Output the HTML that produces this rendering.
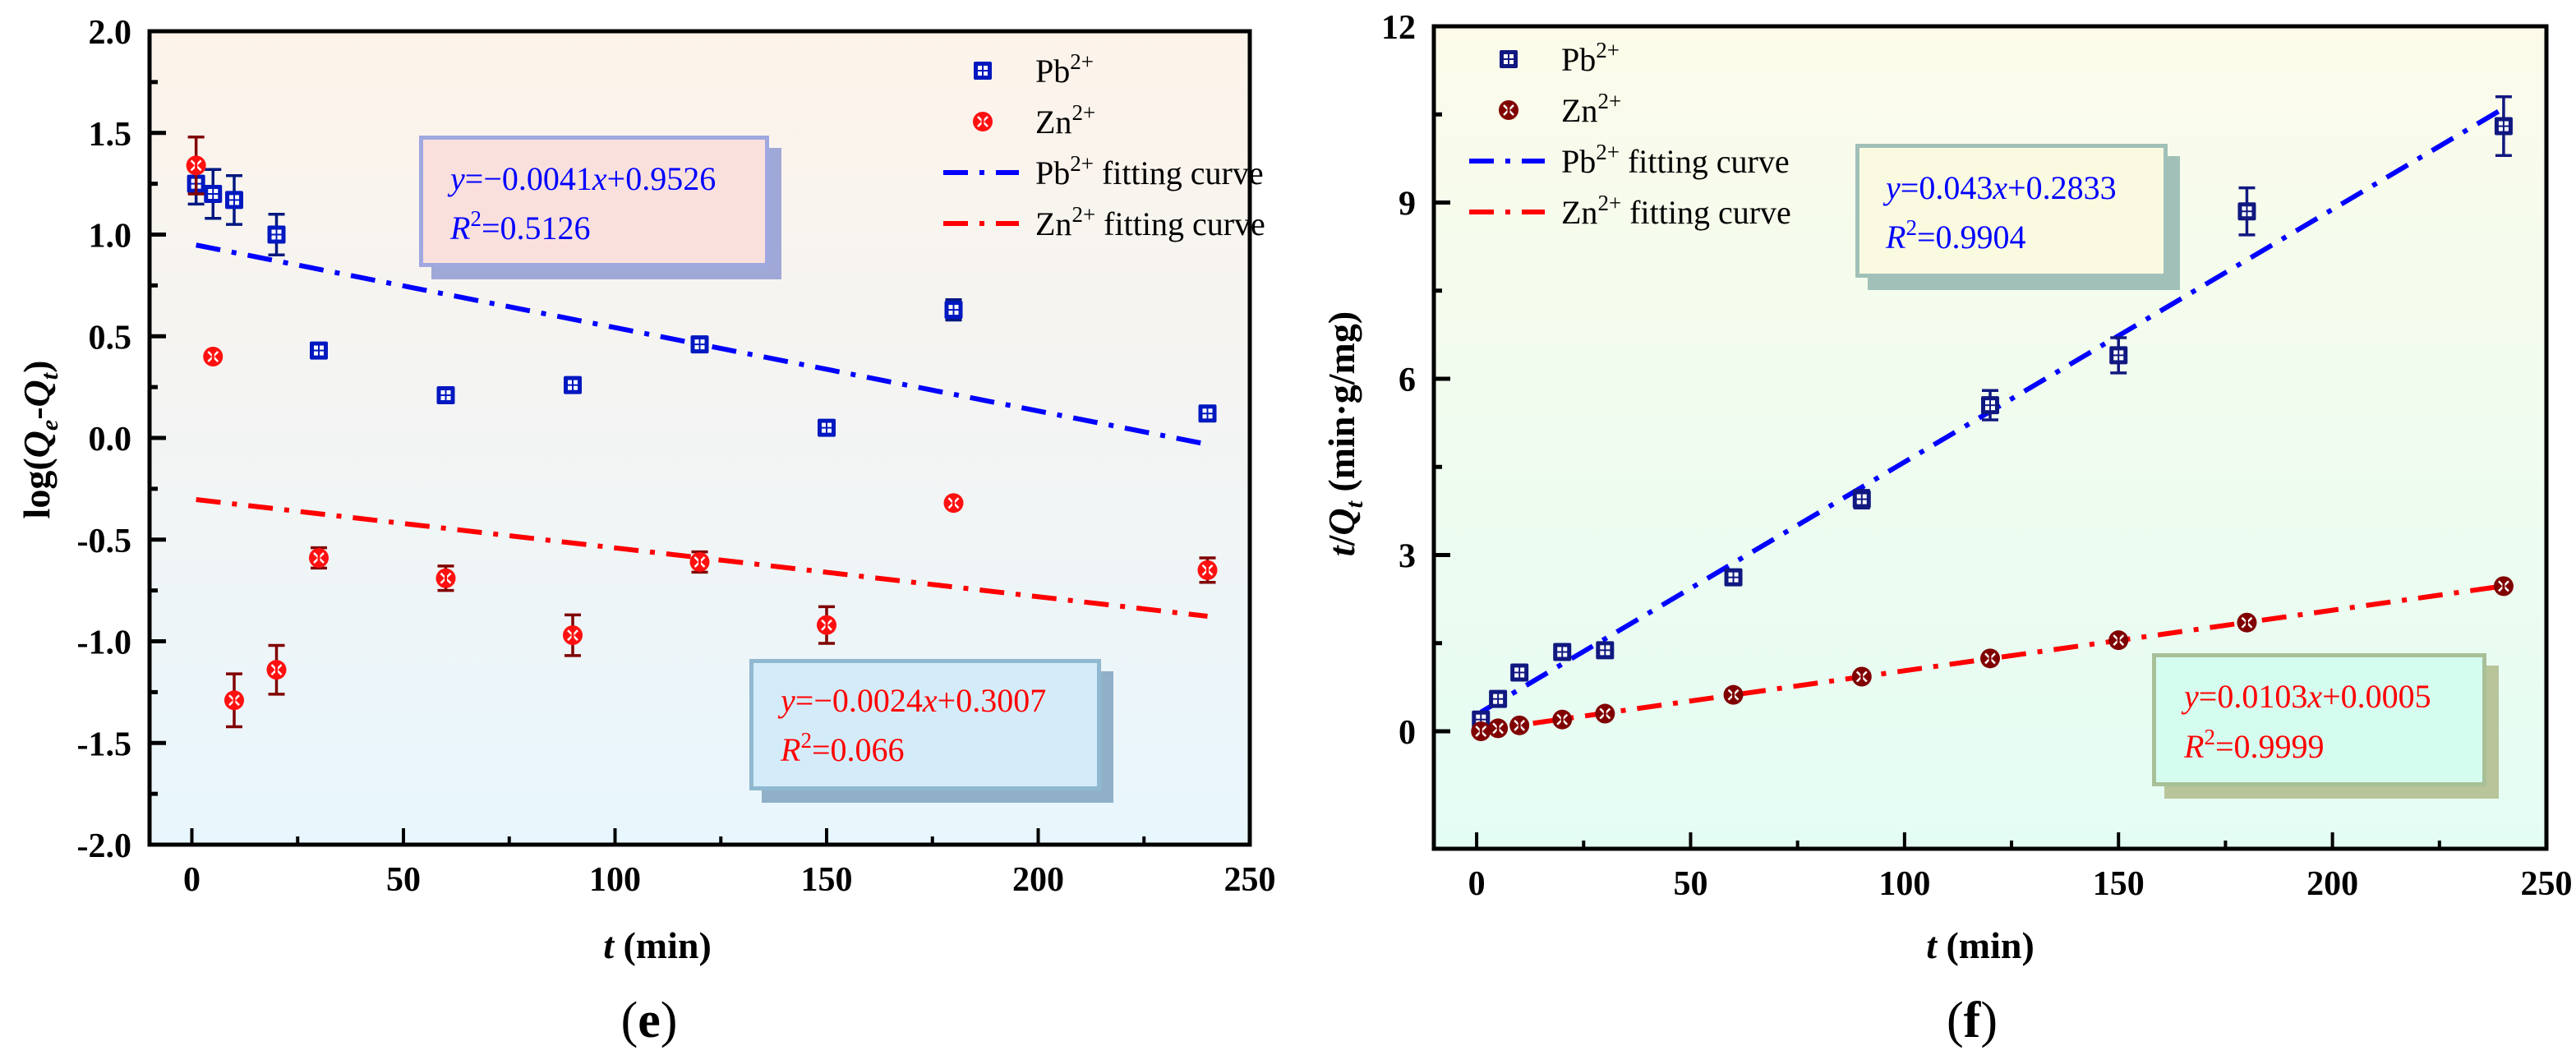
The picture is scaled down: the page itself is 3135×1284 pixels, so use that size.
<!DOCTYPE html>
<html><head><meta charset="utf-8">
<style>
html,body{margin:0;padding:0;background:#fff;}
svg{display:block;font-family:"Liberation Serif",serif;}
</style></head>
<body>
<svg id="fig" width="3135" height="1284" viewBox="0 0 3135 1284" xmlns="http://www.w3.org/2000/svg">
<defs>
<linearGradient id="bgE" x1="0" y1="0" x2="0" y2="1"><stop offset="0" stop-color="#fdf3ea"/><stop offset="1" stop-color="#e8f6fd"/></linearGradient>
<linearGradient id="bgF" x1="0" y1="0" x2="0" y2="1"><stop offset="0" stop-color="#fcfbea"/><stop offset="1" stop-color="#e4fdf4"/></linearGradient>
</defs>
<g id="panelE"></g>
<g id="panelF"></g>
</svg>
<script>
// ---- data (panel e) ----
const timesE = [1,5,10,20,30,60,90,120,150,180,240];
const pbE = [1.25,1.2,1.17,1.0,0.43,0.21,0.26,0.46,0.05,0.63,0.12];
const pbErrE = [0.1,0.12,0.12,0.1,0.02,0.02,0.02,0.03,0.02,0.05,0.02];
const znE = [1.34,0.40,-1.29,-1.14,-0.59,-0.69,-0.97,-0.61,-0.92,-0.32,-0.65];
const znErrE = [0.14,0.02,0.13,0.12,0.05,0.06,0.1,0.05,0.09,0.02,0.06];
const fitPbE = [-0.0041,0.9526];
const fitZnE = [-0.0024,-0.3007];
const yTicksE = [2.0,1.5,1.0,0.5,0.0,-0.5,-1.0,-1.5,-2.0];
const yTickLabelsE = ["2.0","1.5","1.0","0.5","0.0","-0.5","-1.0","-1.5","-2.0"];
const xTicks = [0,50,100,150,200,250];
// ---- data (panel f) ----
const timesF = [1,5,10,20,30,60,90,120,150,180,240];
const pbF = [0.2,0.55,1.0,1.35,1.38,2.62,3.95,5.55,6.4,8.85,10.3];
const pbErrF = [0.04,0.05,0.06,0.06,0.06,0.08,0.15,0.25,0.3,0.4,0.5];
const znF = [0.0,0.05,0.1,0.2,0.3,0.62,0.93,1.24,1.55,1.85,2.47];
const znErrF = [0.02,0.02,0.02,0.03,0.03,0.04,0.04,0.05,0.05,0.05,0.05];
const fitPbF = [0.043,0.2833];
const fitZnF = [0.0103,0.0005];
const yTicksF = [0,3,6,9,12];
const yTickLabelsF = ["0","3","6","9","12"];

const NS="http://www.w3.org/2000/svg";
function mk(parent,tag,attrs,text){const e=document.createElementNS(NS,tag);for(const k in attrs)e.setAttribute(k,attrs[k]);if(text!==undefined)e.textContent=text;parent.appendChild(e);return e;}

function axis(x0,x1,px0,px1){return v=>px0+(v-x0)/(x1-x0)*(px1-px0);}

function panel(g,cfg){
  const sx=axis(-10,250,cfg.L,cfg.R), sy=axis(cfg.ymin,cfg.ymax,cfg.B,cfg.T);
  const bg=mk(g,'rect',{x:cfg.L,y:cfg.T,width:cfg.R-cfg.L,height:cfg.B-cfg.T,fill:cfg.bg});
  
  
  // boxes
  cfg.boxes.forEach(b=>{
    const bx=mk(g,'g',{});
    
    
    mk(bx,'rect',{x:b.x+15,y:b.y+15,width:b.w,height:b.h,fill:b.sh});
    mk(bx,'rect',{x:b.x+2.5,y:b.y+2.5,width:b.w-5,height:b.h-5,fill:b.fill,stroke:b.border,'stroke-width':5});
    const t1=mk(bx,'text',{x:b.x+b.tx,y:b.y+b.ty1,'font-size':40,fill:b.color});
    t1.innerHTML=b.l1;
    const t2=mk(bx,'text',{x:b.x+b.tx,y:b.y+b.ty2,'font-size':40,fill:b.color});
    t2.innerHTML=b.l2;
  });
  // fit lines
  [[cfg.fitPb,'#0000ff','pb-fitting-line'],[cfg.fitZn,'#ff0000','zn-fitting-line']].forEach(([f,c,n])=>{
    const l=mk(g,'line',{x1:sx(1),y1:sy(f[0]*1+f[1]),x2:sx(240),y2:sy(f[0]*240+f[1]),stroke:c,'stroke-width':6,'stroke-dasharray':'30 14 6 14'});
    
    
  });
  // points
  function errbar(x,y,e,c){
    const gg=mk(g,'g',{stroke:c,'stroke-width':3.5});
    
    
    mk(gg,'line',{x1:sx(x),x2:sx(x),y1:sy(y+e),y2:sy(y-e)});
    mk(gg,'line',{x1:sx(x)-10,x2:sx(x)+10,y1:sy(y+e),y2:sy(y+e)});
    mk(gg,'line',{x1:sx(x)-10,x2:sx(x)+10,y1:sy(y-e),y2:sy(y-e)});
  }
  function sq(cx,cy,c,name){
    const gg=mk(g,'g',{});
    
    
    mk(gg,'rect',{x:cx-11,y:cy-11,width:22,height:22,fill:c,rx:2});
    [[-6,-6],[1,-6],[-6,1],[1,1]].forEach(([a,b])=>mk(gg,'rect',{x:cx+a,y:cy+b,width:5,height:5,fill:'#fff'}));
  }
  function ci(cx,cy,c,name){
    const gg=mk(g,'g',{});
    
    
    mk(gg,'circle',{cx:cx,cy:cy,r:12,fill:c});
    mk(gg,'path',{d:`M${cx-6} ${cy-6}L${cx+6} ${cy+6}M${cx+6} ${cy-6}L${cx-6} ${cy+6}`,stroke:'#fff','stroke-width':2.5});
    mk(gg,'line',{x1:cx,y1:cy-11,x2:cx,y2:cy+11,stroke:c,'stroke-width':3});
  }
  cfg.t.forEach((t,i)=>{errbar(t,cfg.pb[i],cfg.pbErr[i],cfg.pbErrC);});
  cfg.t.forEach((t,i)=>{sq(sx(t),sy(cfg.pb[i]),cfg.pbC,'pb-point');});
  cfg.t.forEach((t,i)=>{errbar(t,cfg.zn[i],cfg.znErr[i],cfg.znErrC);});
  cfg.t.forEach((t,i)=>{ci(sx(t),sy(cfg.zn[i]),cfg.znC,'zn-point');});
  // legend
  const lg=mk(g,'g',{'font-size':40});
  
  
  const lx=cfg.legX, ly=cfg.legY;
  sq(lx+48,ly,cfg.pbC,'legend-pb-marker');
  ci(lx+48,ly+62,cfg.znC,'legend-zn-marker');
  mk(lg,'line',{x1:lx,x2:lx+92,y1:ly+124,y2:ly+124,stroke:'#0000ff','stroke-width':6,'stroke-dasharray':'30 14 6 14'});
  mk(lg,'line',{x1:lx,x2:lx+92,y1:ly+186,y2:ly+186,stroke:'#ff0000','stroke-width':6,'stroke-dasharray':'30 14 6 14'});
  const labs=['Pb<tspan font-size="27" dy="-16">2+</tspan>','Zn<tspan font-size="27" dy="-16">2+</tspan>','Pb<tspan font-size="27" dy="-16">2+</tspan><tspan dy="16"> fitting curve</tspan>','Zn<tspan font-size="27" dy="-16">2+</tspan><tspan dy="16"> fitting curve</tspan>'];
  labs.forEach((s,i)=>{const t=mk(lg,'text',{x:lx+112,y:ly+14+62*i});t.innerHTML=s;});
  // axes frame
  const fr=mk(g,'rect',{x:cfg.L,y:cfg.T,width:cfg.R-cfg.L,height:cfg.B-cfg.T,fill:'none',stroke:'#000','stroke-width':5});
  
  
  // x ticks
  xTicks.forEach((v,i)=>{
    if(v<250) mk(g,'line',{x1:sx(v),x2:sx(v),y1:cfg.B,y2:cfg.B-20,stroke:'#000','stroke-width':4});
    if(v<250) mk(g,'line',{x1:sx(v+25),x2:sx(v+25),y1:cfg.B,y2:cfg.B-10,stroke:'#000','stroke-width':4});
    const t=mk(g,'text',{x:sx(v),y:cfg.B+56,'font-size':42,'font-weight':'bold','text-anchor':'middle'},String(v));
    
    
  });
  cfg.yTicks.forEach((v,i)=>{
    mk(g,'line',{x1:cfg.L,x2:cfg.L+20,y1:sy(v),y2:sy(v),stroke:'#000','stroke-width':5});
    if(i<cfg.yTicks.length-1){const m=(v+cfg.yTicks[i+1])/2;mk(g,'line',{x1:cfg.L,x2:cfg.L+10,y1:sy(m),y2:sy(m),stroke:'#000','stroke-width':5});}
    const t=mk(g,'text',{x:cfg.L-22,y:sy(v)+15,'font-size':42,'font-weight':'bold','text-anchor':'end'},cfg.yLabels[i]);
    
    
  });
  const xt=mk(g,'text',{x:cfg.xlabX,y:1166,'font-size':46,'font-weight':'bold','text-anchor':'middle'});
  xt.innerHTML='<tspan font-style="italic">t</tspan> (min)';
  
  
  const yt=mk(g,'text',{x:0,y:0,'font-size':46,'font-weight':'bold','text-anchor':'middle',transform:`translate(${cfg.ylabX},${cfg.ylabY}) rotate(-90)`});
  yt.innerHTML=cfg.ylab;
  
  
  const pl=mk(g,'text',{x:cfg.xlabX-10,y:1262,'font-size':62,'text-anchor':'middle'});
  pl.innerHTML=cfg.letter;
  
  
}

panel(document.getElementById('panelE'),{
  L:182,R:1521,T:38,B:1028,ymin:-2,ymax:2,bg:'url(#bgE)',
  t:timesE,pb:pbE,pbErr:pbErrE,zn:znE,znErr:znErrE,fitPb:fitPbE,fitZn:fitZnE,
  pbC:'#0018c0',pbErrC:'#001880',znC:'#ff1010',znErrC:'#800000',
  yTicks:yTicksE,yLabels:yTickLabelsE,legX:1148,legY:86,
  xlabX:800,ylabX:60,ylabY:535,
  ylab:'log(<tspan font-style="italic">Q</tspan><tspan font-style="italic" font-size="30" dy="10">e</tspan><tspan dy="-10">-</tspan><tspan font-style="italic">Q</tspan><tspan font-style="italic" font-size="30" dy="10">t</tspan><tspan dy="-10">)</tspan>',
  letter:'(<tspan font-weight="bold">e</tspan>)',
  boxes:[
    {name:'pb-equation-box',x:510,y:165,w:426,h:160,fill:'#fae0dc',border:'#a0a8e0',sh:'#a0a8d8',color:'#0000ff',tx:38,ty1:66,ty2:126,
     l1:'<tspan font-style="italic">y</tspan>=−0.0041<tspan font-style="italic">x</tspan>+0.9526',l2:'<tspan font-style="italic">R</tspan><tspan font-size="27" dy="-16">2</tspan><tspan dy="16">=0.5126</tspan>'},
    {name:'zn-equation-box',x:912,y:802,w:428,h:160,fill:'#d4ecfa',border:'#90b8d0',sh:'#90b0c8',color:'#ff0000',tx:38,ty1:64,ty2:124,
     l1:'<tspan font-style="italic">y</tspan>=−0.0024<tspan font-style="italic">x</tspan>+0.3007',l2:'<tspan font-style="italic">R</tspan><tspan font-size="27" dy="-16">2</tspan><tspan dy="16">=0.066</tspan>'}
  ]
});
panel(document.getElementById('panelF'),{
  L:1745,R:3099,T:32,B:1033,ymin:-2,ymax:12,bg:'url(#bgF)',
  t:timesF,pb:pbF,pbErr:pbErrF,zn:znF,znErr:znErrF,fitPb:fitPbF,fitZn:fitZnF,
  pbC:'#101880',pbErrC:'#101880',znC:'#800000',znErrC:'#800000',
  yTicks:yTicksF.slice().reverse(),yLabels:yTickLabelsF.slice().reverse(),legX:1788,legY:72,
  xlabX:2410,ylabX:1648,ylabY:528,
  ylab:'<tspan font-style="italic">t</tspan>/<tspan font-style="italic">Q</tspan><tspan font-style="italic" font-size="30" dy="10">t</tspan><tspan dy="-10"> (min·g/mg)</tspan>',
  letter:'(<tspan font-weight="bold">f</tspan>)',
  boxes:[
    {name:'pb-equation-box',x:2258,y:175,w:380,h:163,fill:'#fafae0',border:'#a0c0b8',sh:'#a0c0b8',color:'#0000ff',tx:37,ty1:67,ty2:127,
     l1:'<tspan font-style="italic">y</tspan>=0.043<tspan font-style="italic">x</tspan>+0.2833',l2:'<tspan font-style="italic">R</tspan><tspan font-size="27" dy="-16">2</tspan><tspan dy="16">=0.9904</tspan>'},
    {name:'zn-equation-box',x:2619,y:795,w:407,h:162,fill:'#d4fdf0',border:'#a8c098',sh:'#b8c49a',color:'#ff0000',tx:39,ty1:66,ty2:127,
     l1:'<tspan font-style="italic">y</tspan>=0.0103<tspan font-style="italic">x</tspan>+0.0005',l2:'<tspan font-style="italic">R</tspan><tspan font-size="27" dy="-16">2</tspan><tspan dy="16">=0.9999</tspan>'}
  ]
});
</script>
</body></html>
